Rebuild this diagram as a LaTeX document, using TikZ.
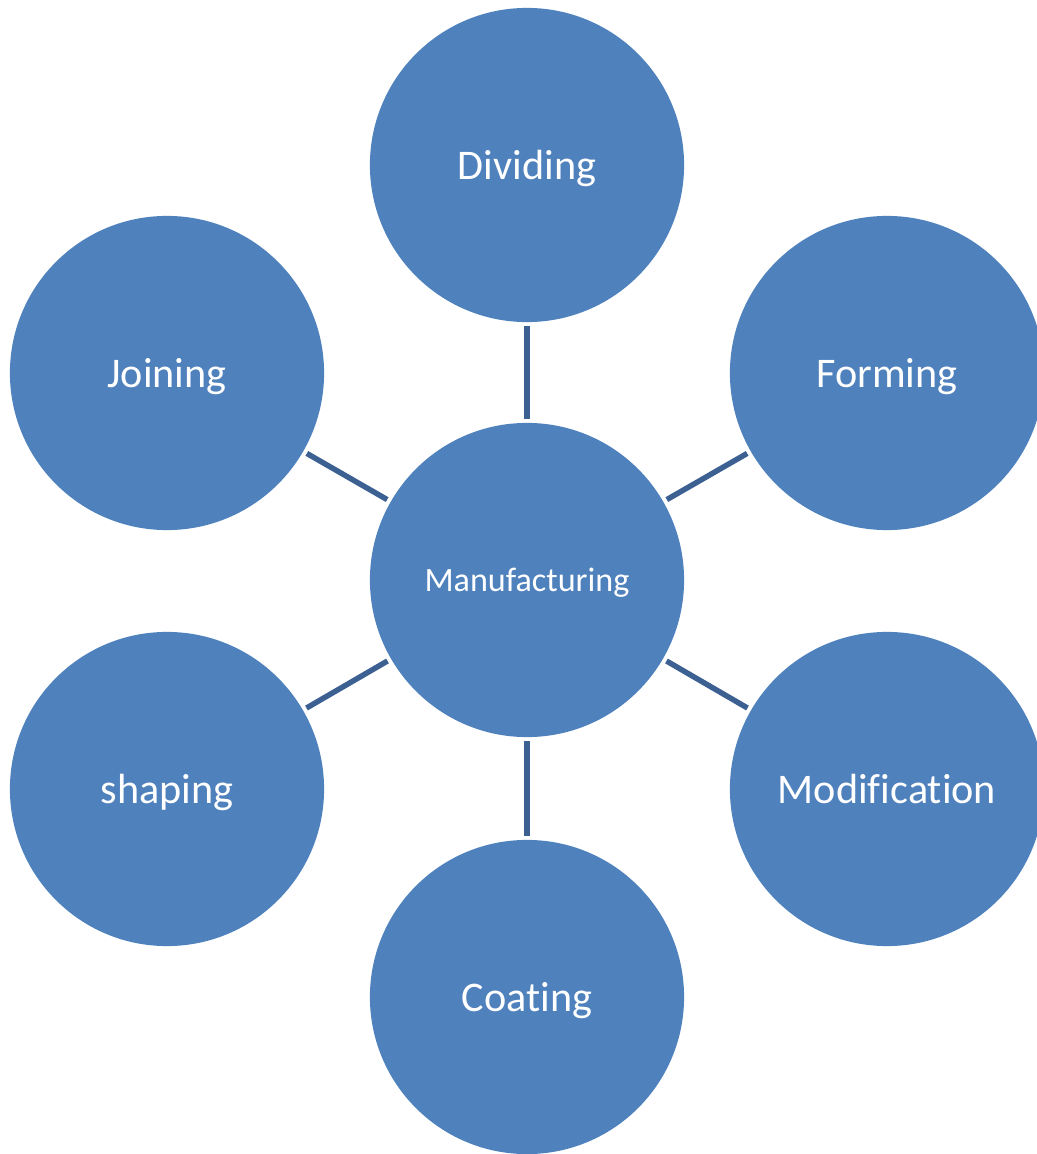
\documentclass[tikz,border=0pt]{standalone}
\usepackage{fontspec}
\setmainfont{Carlito}[Ligatures=NoCommon]
\definecolor{circblue}{RGB}{79,129,189}
\definecolor{linkblue}{RGB}{60,96,145}
\tikzset{
    proc/.style={circle, fill=circblue, minimum size=3.14cm, inner sep=0pt, outer sep=0pt, text=white, text depth=0pt, font=\fontsize{12}{14}\selectfont},
    link/.style={draw=linkblue, line width=1.55pt, shorten >=1.2pt, shorten <=1.2pt}
}
\begin{document}
\begin{tikzpicture}[x=0.01cm, y=-0.01cm]
        \clip (0, 0) rectangle (1037, 1154);
        \useasboundingbox (0, 0) rectangle (1037, 1154);
        % middle one
        \node[proc, font=\fontsize{9.7}{12}\selectfont] (manu) at (527, 580) {Manufacturing};
        % ring around it
        \node[proc] (divi) at (527, 165) {Dividing};
        \node[proc] (join) at (167, 373) {Joining};
        \node[proc] (form) at (887, 373) {Forming};
        \node[proc] (shap) at (167, 789) {shaping};
        \node[proc] (modi) at (887, 789) {Modification};
        \node[proc] (coat) at (527, 997) {Coating};
        % links to the middle
        \draw[link] (divi) -- (manu);
        \draw[link] (join) -- (manu);
        \draw[link] (form) -- (manu);
        \draw[link] (shap) -- (manu);
        \draw[link] (modi) -- (manu);
        \draw[link] (coat) -- (manu);
\end{tikzpicture}
\end{document}
